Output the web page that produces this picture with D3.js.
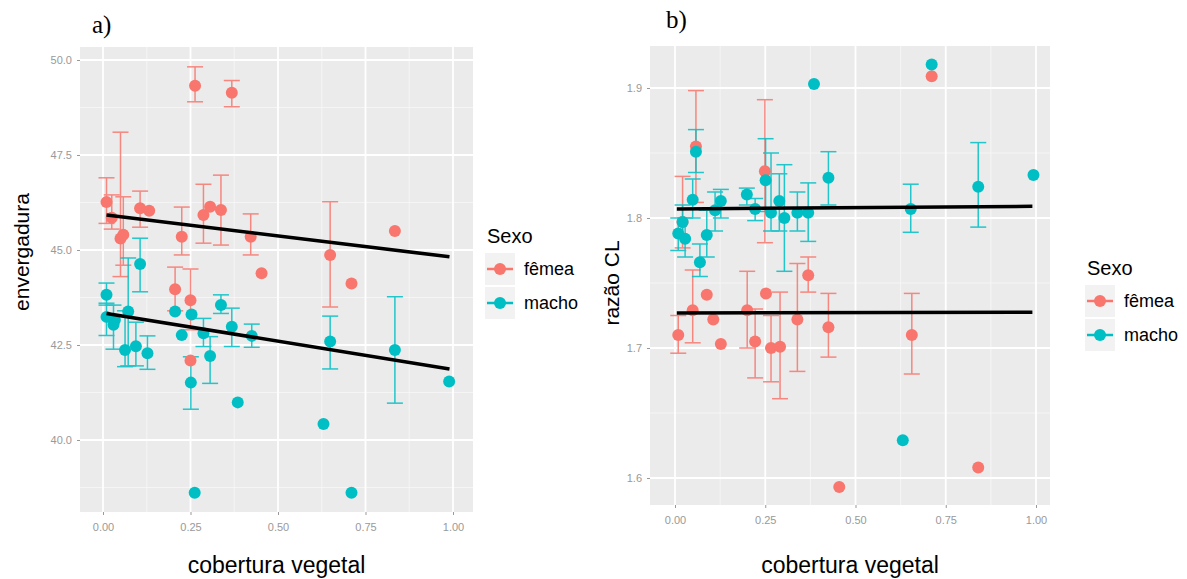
<!DOCTYPE html>
<style>
    body{ margin:0; background:#fff; }
    svg{ font-family:"Liberation Sans", Arial, sans-serif; }
</style>
<svg width="1187" height="579"></svg>
<script src="https://d3js.org/d3.v7.min.js"></script>
<script>
    // rows: [cobertura, valor, limite inferior, limite superior]
    var envFemea=[
        [0.01,46.26,45.7,46.9],[0.025,45.85,45.55,46.45],[0.05,45.3,44.3,48.1],[0.058,45.4,44.6,46.4],
        [0.106,46.1,45.6,46.55],[0.132,46.03,null,null],[0.206,43.97,43.4,44.55],[0.225,45.35,44.87,46.13],
        [0.25,43.68,42.9,44.5],[0.25,42.09,null,null],[0.263,49.32,48.9,49.82],[0.287,45.92,45.18,46.73],
        [0.306,46.14,null,null],[0.337,46.05,45.13,46.97],[0.368,49.14,48.77,49.46],[0.422,45.35,44.87,45.95],
        [0.453,44.39,null,null],[0.649,44.87,43.5,46.27],[0.71,44.12,null,null],[0.834,45.5,null,null]
    ];
    var envMacho=[
        [0.01,43.82,43.55,44.13],[0.01,43.24,42.75,43.6],[0.03,43.03,42.39,43.55],[0.034,43.16,null,null],
        [0.063,42.37,41.93,43.4],[0.072,43.38,41.95,44.79],[0.094,42.47,41.95,43.1],[0.106,44.63,43.9,45.31],
        [0.127,42.28,41.86,42.74],[0.206,43.38,null,null],[0.225,42.76,null,null],[0.253,43.3,null,null],
        [0.251,41.51,40.81,42.19],[0.262,38.61,null,null],[0.287,42.81,42.46,43.2],[0.306,42.21,41.49,42.72],
        [0.337,43.55,43.33,43.82],[0.368,42.98,42.46,43.47],[0.385,40.99,null,null],[0.425,42.74,42.44,43.05],
        [0.649,42.59,41.87,43.26],[0.63,40.42,null,null],[0.71,38.61,null,null],[0.834,42.37,40.97,43.77],
        [0.989,41.54,null,null]
    ];
    var razFemea=[
        [0.009,1.71,1.696,1.725],[0.021,1.797,1.777,1.832],[0.049,1.729,1.704,1.76],[0.058,1.855,1.812,1.898],
        [0.088,1.741,null,null],[0.106,1.722,null,null],[0.127,1.703,null,null],[0.2,1.729,1.70,1.759],
        [0.222,1.705,1.677,1.73],[0.249,1.836,1.781,1.891],[0.252,1.742,null,null],[0.266,1.70,1.674,1.725],
        [0.291,1.701,1.661,1.743],[0.339,1.722,1.682,1.765],[0.369,1.756,1.743,1.77],[0.425,1.716,1.693,1.742],
        [0.455,1.593,null,null],[0.656,1.71,1.68,1.742],[0.711,1.909,null,null],[0.84,1.608,null,null]
    ];
    var razMacho=[
        [0.009,1.788,1.775,1.80],[0.021,1.797,1.785,1.81],[0.028,1.784,1.77,1.80],[0.049,1.814,1.80,1.83],
        [0.058,1.851,1.835,1.868],[0.069,1.766,1.755,1.78],[0.088,1.787,1.77,1.806],[0.111,1.806,1.79,1.82],
        [0.127,1.813,1.80,1.822],[0.199,1.818,1.81,1.823],[0.222,1.807,1.798,1.815],[0.251,1.829,1.805,1.861],
        [0.266,1.804,1.79,1.85],[0.289,1.813,1.79,1.834],[0.303,1.80,1.759,1.841],[0.339,1.804,1.79,1.82],
        [0.369,1.804,1.782,1.827],[0.385,1.903,null,null],[0.425,1.831,1.81,1.851],[0.631,1.629,null,null],
        [0.653,1.807,1.789,1.826],[0.711,1.918,null,null],[0.84,1.824,1.793,1.858],[0.993,1.833,null,null]
    ];
    // linhas ajustadas: [x inicio, y inicio, x fim, y fim]
    var ajusteEnvFemea=[0.01,45.92,0.99,44.82];
    var ajusteEnvMacho=[0.01,43.33,0.99,41.87];
    var ajusteRazFemea=[0.005,1.727,0.99,1.7275];
    var ajusteRazMacho=[0.005,1.807,0.99,1.809];

    var xTicks=[0,0.25,0.5,0.75,1];
    var yTicksA=[40,42.5,45,47.5,50];
    var yTicksB=[1.6,1.7,1.8,1.9];
    var sexos=["fêmea","macho"];
    var cores={"fêmea":"#F8766D","macho":"#00BFC4"};

    var svg=d3.select("svg");

    function painel(cfg){
        var g=svg.append("g");
        var x=d3.scaleLinear().domain([0,1]).range(cfg.xr);
        var y=d3.scaleLinear().domain(cfg.yd).range(cfg.yr);
        var x0=cfg.box[0],x1=cfg.box[1],y0=cfg.box[2],y1=cfg.box[3];

        g.append("rect").attr("x",x0).attr("y",y0).attr("width",x1-x0).attr("height",y1-y0).attr("fill","#EBEBEB");

        // grade menor
        var xMin=d3.range(0.125,1,0.25).concat([-0.125,1.125]).filter(function(v){ return x(v)>x0 && x(v)<x1; });
        var step=cfg.yt[1]-cfg.yt[0];
        var yMin=[];
        for(var v=cfg.yt[0]-step/2; v<=cfg.yt[cfg.yt.length-1]+step; v+=step){
            if(y(v)>y0 && y(v)<y1) yMin.push(v);
        }
        g.selectAll(".xm").data(xMin).enter().append("line")
            .attr("x1",function(d){ return x(d); }).attr("x2",function(d){ return x(d); })
            .attr("y1",y0).attr("y2",y1).attr("stroke","#F7F7F7").attr("stroke-width",0.8);
        g.selectAll(".ym").data(yMin).enter().append("line")
            .attr("y1",function(d){ return y(d); }).attr("y2",function(d){ return y(d); })
            .attr("x1",x0).attr("x2",x1).attr("stroke","#F7F7F7").attr("stroke-width",0.8);
        // grade maior
        g.selectAll(".xg").data(xTicks).enter().append("line")
            .attr("x1",function(d){ return x(d); }).attr("x2",function(d){ return x(d); })
            .attr("y1",y0).attr("y2",y1).attr("stroke","#fff").attr("stroke-width",1.8);
        g.selectAll(".yg").data(cfg.yt).enter().append("line")
            .attr("y1",function(d){ return y(d); }).attr("y2",function(d){ return y(d); })
            .attr("x1",x0).attr("x2",x1).attr("stroke","#fff").attr("stroke-width",1.8);

        // eixos
        var ax=d3.axisBottom(x).tickValues(xTicks).tickFormat(d3.format(".2f")).tickSize(3).tickPadding(8);
        var gx=g.append("g").attr("transform","translate(0,"+y1+")").call(ax);
        var ay=d3.axisLeft(y).tickValues(cfg.yt).tickFormat(d3.format(cfg.yf)).tickSize(3).tickPadding(5);
        var gy=g.append("g").attr("transform","translate("+x0+",0)").call(ay);
        [gx,gy].forEach(function(a){
            a.select(".domain").remove();
            a.selectAll("line").attr("stroke","#999");
            a.selectAll("text").attr("fill","#999").attr("font-size",11);
        });

        // barras de erro, pontos
        sexos.forEach(function(s,i){
            var dados=cfg.dados[i];
            var comBarra=dados.filter(function(d){ return d[2]!==null; });
            var eb=g.append("g").attr("stroke",cores[s]).attr("stroke-width",1.5).attr("fill","none").attr("opacity",0.85);
            eb.selectAll(".v").data(comBarra).enter().append("line")
                .attr("x1",function(d){ return x(d[0]); }).attr("x2",function(d){ return x(d[0]); })
                .attr("y1",function(d){ return y(d[2]); }).attr("y2",function(d){ return y(d[3]); });
            eb.selectAll(".lo").data(comBarra).enter().append("line")
                .attr("x1",function(d){ return x(d[0])-8; }).attr("x2",function(d){ return x(d[0])+8; })
                .attr("y1",function(d){ return y(d[2]); }).attr("y2",function(d){ return y(d[2]); });
            eb.selectAll(".hi").data(comBarra).enter().append("line")
                .attr("x1",function(d){ return x(d[0])-8; }).attr("x2",function(d){ return x(d[0])+8; })
                .attr("y1",function(d){ return y(d[3]); }).attr("y2",function(d){ return y(d[3]); });
        });
        sexos.forEach(function(s,i){
            g.selectAll(".p"+i).data(cfg.dados[i]).enter().append("circle")
                .attr("cx",function(d){ return x(d[0]); })
                .attr("cy",function(d){ return y(d[1]); })
                .attr("r",6).attr("fill",cores[s]);
        });

        // linhas ajustadas
        cfg.ajustes.forEach(function(a){
            g.append("line").attr("x1",x(a[0])).attr("y1",y(a[1])).attr("x2",x(a[2])).attr("y2",y(a[3]))
                .attr("stroke","#000").attr("stroke-width",3.5);
        });

        // titulos
        g.append("text").attr("x",cfg.tag[0]).attr("y",cfg.tag[1])
            .attr("font-family","'Liberation Serif', 'DejaVu Serif', serif").attr("font-size",25)
            .text(cfg.tagTxt);
        g.append("text").attr("x",(x0+x1)/2).attr("y",573).attr("text-anchor","middle")
            .attr("font-size",23).text("cobertura vegetal");
        g.append("text").attr("transform","translate("+cfg.ylab[0]+","+cfg.ylab[1]+") rotate(-90)")
            .attr("text-anchor","middle").attr("font-size",21).text(cfg.ylabTxt);

        // legenda
        var lg=g.append("g").attr("transform","translate("+cfg.leg[0]+","+cfg.leg[1]+")");
        lg.append("text").attr("x",0).attr("y",0).attr("font-size",20).text("Sexo");
        sexos.forEach(function(s,i){
            var ky=26+i*34;
            lg.append("rect").attr("x",-2).attr("y",ky-16).attr("width",30).attr("height",32).attr("fill","#F2F2F2");
            lg.append("line").attr("x1",0).attr("x2",26).attr("y1",ky).attr("y2",ky)
                .attr("stroke",cores[s]).attr("stroke-width",2.5);
            lg.append("circle").attr("cx",13).attr("cy",ky).attr("r",6).attr("fill",cores[s]);
            lg.append("text").attr("x",37).attr("y",ky+6).attr("font-size",18).text(s);
        });
    }

    painel({
        xr:[103,453], yd:[40,50], yr:[440,60], box:[80,473,47,512],
        yt:yTicksA, yf:".1f", dados:[envFemea,envMacho], ajustes:[ajusteEnvFemea,ajusteEnvMacho],
        tag:[92,33], tagTxt:"a)", ylab:[29,252], ylabTxt:"envergadura", leg:[487,243]
    });
    painel({
        xr:[675,1036], yd:[1.6,1.9], yr:[478,88], box:[650,1050,46,505],
        yt:yTicksB, yf:".1f", dados:[razFemea,razMacho], ajustes:[ajusteRazFemea,ajusteRazMacho],
        tag:[666,28], tagTxt:"b)", ylab:[619,283], ylabTxt:"razão CL", leg:[1087,275]
    });
</script>
